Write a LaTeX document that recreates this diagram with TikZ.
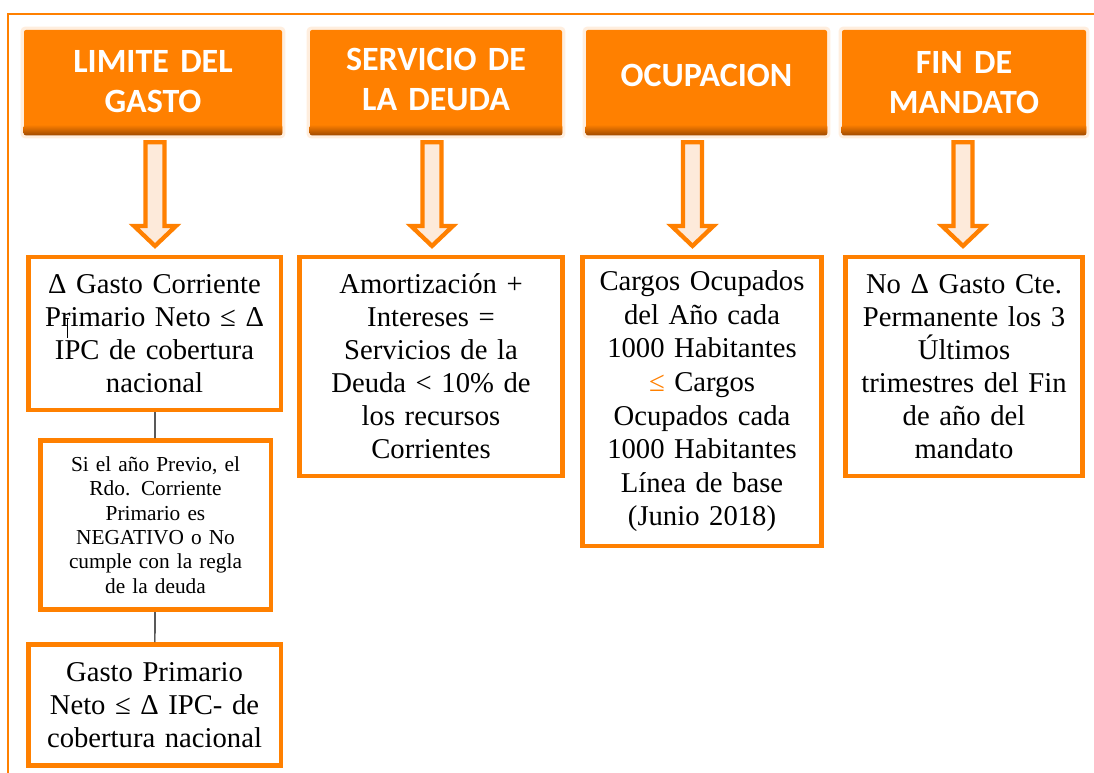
\documentclass[tikz,border=0pt]{standalone}
\usepackage{fontspec}
\setmainfont{Liberation Serif}
\newfontfamily\hdrfont{Carlito}
\usetikzlibrary{calc,backgrounds}
\definecolor{horange}{RGB}{255,128,0}
\definecolor{hbrown}{RGB}{160,75,0}
\definecolor{hglow}{RGB}{255,238,222}
\definecolor{afill}{RGB}{253,234,218}
\newcommand\blockarrow[3]{%
  \coordinate (at#1) at ($(#1.south)+(#3,7)$);
  \coordinate (ab#1) at ($(at#1 |- #2.north)+(0,-9)$);
  \draw[barrow] ($(at#1)+(-9.5,0)$) -- ($(at#1)+(9.5,0)$)
    -- ($(ab#1)+(9.5,-20)$) -- ($(ab#1)+(21,-20)$) -- (ab#1)
    -- ($(ab#1)+(-21,-20)$) -- ($(ab#1)+(-9.5,-20)$) -- cycle;}
\begin{document}
\begin{tikzpicture}[x=0.75pt,y=-0.75pt,
  hdr/.style={fill=horange, rounded corners=1.5pt, text=white, inner sep=0pt,
    font=\hdrfont\bfseries\fontsize{25.5}{30}\selectfont, align=center, text width=170pt},
  cbox/.style={draw=horange, line width=3.4pt, fill=white, align=center, inner sep=0pt,
    font=\fontsize{21.5}{24.75}\selectfont},
  smalltext/.style={font=\fontsize{16}{18.3}\selectfont},
  barrow/.style={draw=horange, fill=afill, line width=3.2pt, line join=miter},
  conn/.style={draw=black, line width=0.9pt},
  framel/.style={draw=horange, line width=1.1pt}]
\useasboundingbox (0,0) rectangle (1094,773);

% header boxes
\node[hdr, minimum width=193.5pt, minimum height=78.75pt] (h1) at (153,82.5) {\raisebox{1pt}{LIMITE DEL}\\\raisebox{1pt}{GASTO}};
\node[hdr, minimum width=189pt, minimum height=78.75pt] (h2) at (436,82.5) {\raisebox{5pt}{SERVICIO DE}\\\raisebox{5pt}{LA DEUDA}};
\node[hdr, minimum width=180.75pt, minimum height=78.75pt] (h3) at (706.5,82.5) {\raisebox{11pt}{OCUPACION}};
\node[hdr, minimum width=183pt, minimum height=78.75pt] (h4) at (964,82.5) {FIN DE\\MANDATO};
\foreach \h in {h1,h2,h3,h4}{
  \shade[top color=horange, bottom color=hbrown, rounded corners=1.5pt]
    ([yshift=8pt]\h.south west) rectangle (\h.south east);
}
\begin{pgfonlayer}{background}
  \fill[white] (0,0) rectangle (1094,773);
  \foreach \h in {h1,h2,h3,h4}{
    \fill[hglow, rounded corners=3pt] ([shift={(-3,-3)}]\h.north west) rectangle ([shift={(3,3)}]\h.south east);
  }
\end{pgfonlayer}

% frame
\coordinate (fc) at (8,14);
\draw[framel] (1094,14) -- (fc) -- (8,773);

% content boxes
\node[cbox, minimum width=189.4pt, minimum height=114.4pt, text width=180pt] (b1a) at (154.5,333.5)
  {Δ Gasto Corriente\\Primario Neto ≤ Δ\\IPC de cobertura\\nacional};
\node[cbox, smalltext, minimum width=172.9pt, minimum height=127.1pt, text width=165pt] (b1b) at (155.5,525)
  {Si el año Previo, el\\Rdo. Corriente\\Primario es\\NEGATIVO o No\\cumple con la regla\\de la deuda};
\node[cbox, minimum width=189.4pt, minimum height=91.1pt, text width=180pt] (b1c) at (154.5,705)
  {\raisebox{-6pt}{\parbox{180pt}{\centering Gasto Primario\\Neto ≤ Δ IPC- de\\cobertura nacional}}};
\node[cbox, minimum width=197.6pt, minimum height=163.9pt, text width=190pt] (b2) at (431,366.5)
  {Amortización +\\Intereses =\\Servicios de la\\Deuda < 10\% de\\los recursos\\Corrientes};
\node[cbox, minimum width=179.6pt, minimum height=216.4pt, text width=172pt, font=\fontsize{21.5}{25.2}\selectfont] (b3) at (702,401.5)
  {Cargos Ocupados\\del Año cada\\1000 Habitantes\\{\color{horange}≤} Cargos\\Ocupados cada\\1000 Habitantes\\Línea de base\\(Junio 2018)};
\node[cbox, minimum width=178.1pt, minimum height=163.9pt, text width=172pt] (b4) at (964,366.5)
  {No Δ Gasto Cte.\\Permanente los 3\\Últimos\\trimestres del Fin\\de año del\\mandato};

% block arrows
\blockarrow{h1}{b1a}{2}
\blockarrow{h2}{b2}{-4}
\blockarrow{h3}{b3}{-14}
\blockarrow{h4}{b4}{-1}

% connectors
\draw[conn] (b1a) -- (b1b);
\draw[conn] (b1b) -- (b1c);

% cursor mark
\draw[black, line width=0.6pt] (64,318) -- (69,318);
\draw[black, line width=0.6pt] (67,318) -- (67,338);
\end{tikzpicture}
\end{document}
